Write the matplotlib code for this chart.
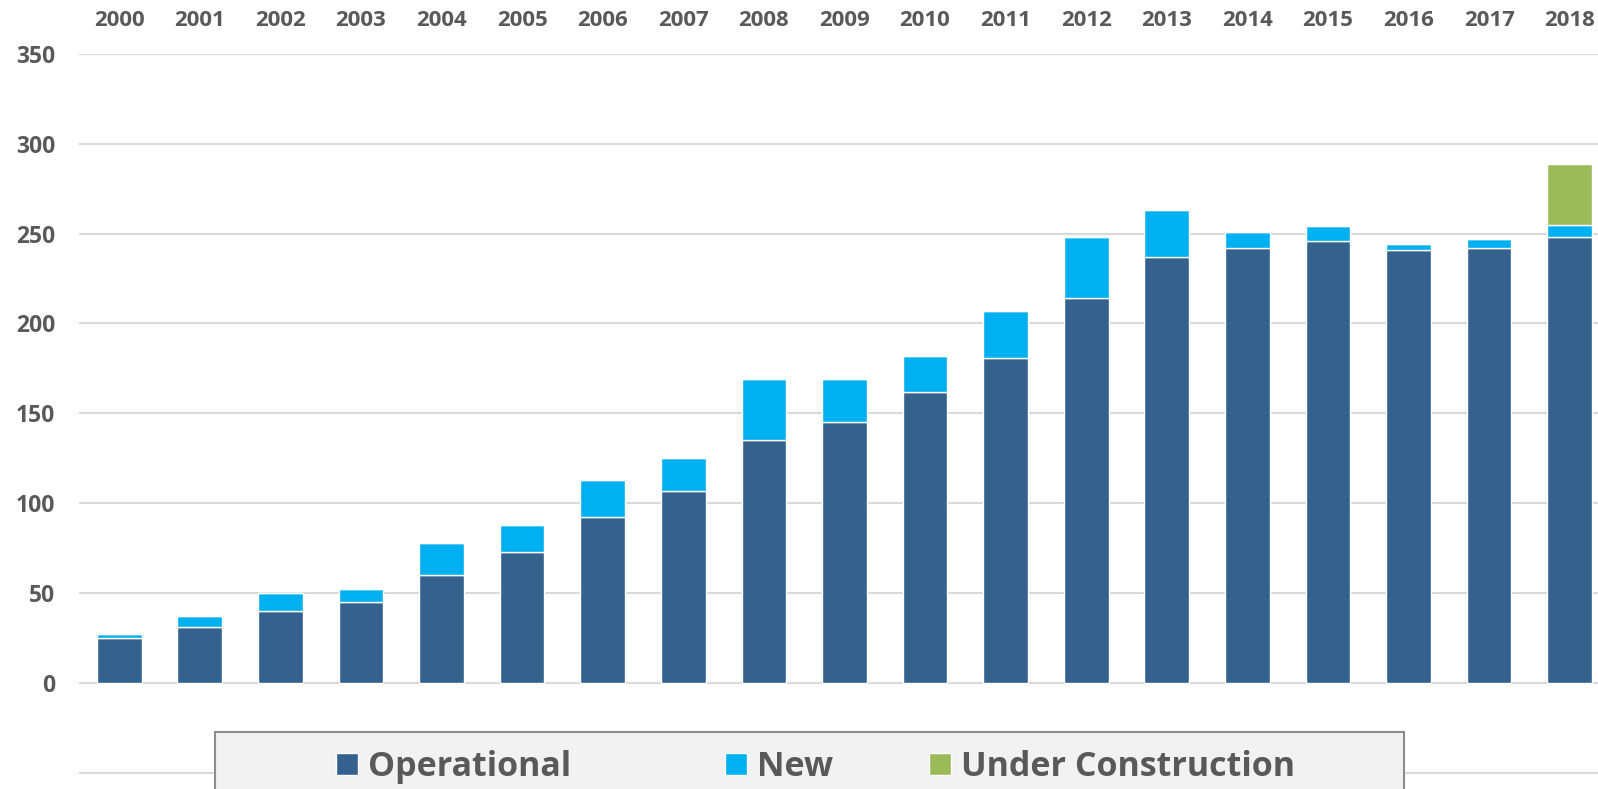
import numpy as np
import matplotlib.pyplot as plt
from matplotlib.patches import Rectangle, Patch

years = [str(y) for y in range(2000, 2019)]
operational = [25, 31, 40, 45, 60, 73, 92, 107, 135, 145, 162, 181, 214, 237, 242, 246, 241, 242, 248]
new = [2, 6, 10, 7, 18, 15, 21, 18, 34, 24, 20, 26, 34, 26, 9, 8, 3, 5, 7]
under_construction = [0, 0, 0, 0, 0, 0, 0, 0, 0, 0, 0, 0, 0, 0, 0, 0, 0, 0, 34]
series_names = ["Operational", "New", "Under Construction"]
ytick_vals = [-50, 0, 50, 100, 150, 200, 250, 300, 350]
ytick_labels = ["", "0", "50", "100", "150", "200", "250", "300", "350"]

C_OP = "#35618f"
C_NEW = "#00b0f0"
C_UC = "#9bbb59"
TXT = "#595959"

plt.rcParams['font.family'] = ['Open Sans', 'DejaVu Sans']

W, H = 1598, 789
fig = plt.figure(figsize=(W / 100, H / 100), dpi=100)
ax = fig.add_axes([78.9 / W, -0.002, (1610 - 78.9) / W, 0.9336])

x = np.arange(len(years))
op = np.array(operational)
nw = np.array(new)
uc = np.array(under_construction)

bw = 0.555
ax.bar(x, op, bw, color=C_OP, edgecolor="white", linewidth=1, zorder=3)
ax.bar(x, nw, bw, bottom=op, color=C_NEW, edgecolor="white", linewidth=1, zorder=3)
ax.bar(x, uc, bw, bottom=op + nw, color=C_UC, edgecolor="white", linewidth=1, zorder=3)

ax.set_xlim(-0.5, len(years) - 0.5)
ax.set_ylim(-60, 350)
ax.set_yticks(ytick_vals)
ax.set_yticklabels(ytick_labels)
ax.set_xticks(x)
ax.set_xticklabels(years)
ax.xaxis.tick_top()
ax.tick_params(axis="x", length=0, pad=16.5, labelsize=16, labelcolor=TXT)
ax.tick_params(axis="y", length=0, pad=17, labelsize=16.5, labelcolor=TXT)
for lab in ax.get_xticklabels() + ax.get_yticklabels():
    lab.set_fontweight("bold")

ax.grid(axis="y", color="#d9d9d9", linewidth=1.5, zorder=0)
ax.set_axisbelow(True)
for s in ax.spines.values():
    s.set_visible(False)

# legend box, cut off at the bottom edge like the source
box = Rectangle((215 / W, -0.05), (1404 - 215) / W, 0.05 + (H - 732) / H,
                transform=fig.transFigure, facecolor="#f2f2f2",
                edgecolor="#8c8c8c", linewidth=1.5, zorder=5, clip_on=False)
fig.patches.append(box)

# one legend per entry so the uneven spacing of the source can be kept
colors = [C_OP, C_NEW, C_UC]
entry_x = [336, 725, 929]
for name, col, ex in zip(series_names, colors, entry_x):
    leg = fig.legend([Patch(facecolor=col, edgecolor="white")], [name],
                     loc="center left", bbox_to_anchor=(ex / W, 1 - 767 / H),
                     frameon=False, borderpad=0, borderaxespad=0,
                     handlelength=0.65, handleheight=0.65, handletextpad=0.3,
                     prop={"family": "Open Sans", "weight": "bold", "size": 24.5})
    leg.set_zorder(6)
    for t in leg.get_texts():
        t.set_color(TXT)

fig.savefig("out.png", dpi=100)
